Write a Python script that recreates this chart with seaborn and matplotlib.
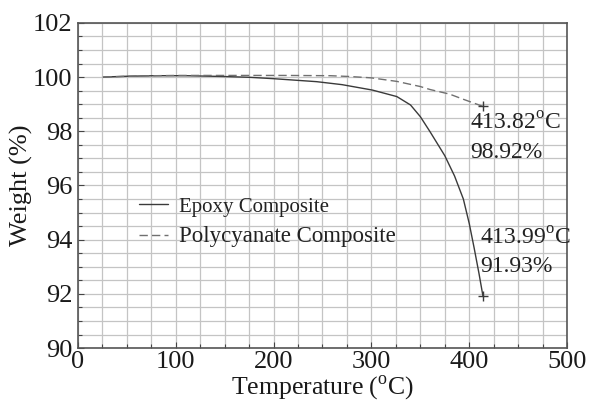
import numpy as np
import pandas as pd
import seaborn as sns
import matplotlib
matplotlib.use("Agg")
import matplotlib.pyplot as plt
from matplotlib.ticker import MultipleLocator

# TGA curves (temperature in °C, residual weight in %)
epoxy_temp = [26, 50, 80, 110, 150, 176, 200, 244, 270, 301, 326, 340, 350, 360, 375, 385,
              394, 400, 405, 410, 413.99]
epoxy_weight = [100.0, 100.03, 100.05, 100.05, 100.02, 99.99, 99.94, 99.83, 99.72, 99.52,
                99.28, 98.97, 98.54, 97.98, 97.1, 96.35, 95.5, 94.6, 93.7, 92.75, 91.93]

poly_temp = [26, 60, 100, 150, 210, 258, 278, 300, 326, 350, 360, 380, 394, 413.82]
poly_weight = [100.0, 100.04, 100.06, 100.06, 100.06, 100.05, 100.02, 99.97, 99.84, 99.65,
               99.54, 99.37, 99.18, 98.92]

series_names = ["Epoxy Composite", "Polycyanate Composite"]

df = pd.concat([
    pd.DataFrame({"Temperature": epoxy_temp, "Weight": epoxy_weight, "Sample": series_names[0]}),
    pd.DataFrame({"Temperature": poly_temp, "Weight": poly_weight, "Sample": series_names[1]}),
])

sns.set_style("ticks")
plt.rcParams["font.family"] = ["Liberation Serif", "DejaVu Serif"]
plt.rcParams["mathtext.fontset"] = "custom"
plt.rcParams["mathtext.rm"] = "Liberation Serif"

fig = plt.figure(figsize=(5.95, 4.01), dpi=100)
ax = fig.add_axes([0.131, 0.132, 0.822, 0.811])

sns.lineplot(data=df, x="Temperature", y="Weight", hue="Sample", style="Sample",
             palette={series_names[0]: "#3a3a3a", series_names[1]: "#707070"},
             dashes={series_names[0]: "", series_names[1]: (6, 3)},
             linewidth=1.0, ax=ax, sort=False)

# end-point markers
ax.plot(epoxy_temp[-1], epoxy_weight[-1], marker="+", color="#3a3a3a", ms=7, mew=1.0)
ax.plot(poly_temp[-1], poly_weight[-1], marker="+", color="#3a3a3a", ms=7, mew=1.0)

deg = r"$^{\mathrm{o}}$C"
txt_kw = dict(fontsize=17, color="#222222", ha="left", va="baseline")
ax.text(400.8, 98.05, f"{poly_temp[-1]:.2f}{deg}", **txt_kw)
ax.text(400.8, 97.0, f"{poly_weight[-1]:.2f}%", **txt_kw)
ax.text(411.0, 93.80, f"{epoxy_temp[-1]:.2f}{deg}", **txt_kw)
ax.text(411.0, 92.80, f"{epoxy_weight[-1]:.2f}%", **txt_kw)

ax.set_xlim(0, 500)
ax.set_ylim(90, 102)
ax.xaxis.set_major_locator(MultipleLocator(100))
ax.xaxis.set_minor_locator(MultipleLocator(25))
ax.yaxis.set_major_locator(MultipleLocator(2))
ax.yaxis.set_minor_locator(MultipleLocator(0.5))
ax.grid(which="both", color="#c4c4c4", linewidth=0.9)
ax.set_axisbelow(True)

ax.tick_params(which="both", direction="in", colors="#444444", labelcolor="#1a1a1a",
               labelsize=19, width=0.8)
ax.tick_params(which="major", length=4)
ax.tick_params(which="minor", length=3)
ax.tick_params(axis="x", which="major", pad=2)
ax.tick_params(axis="y", which="major", pad=4)
for s in ax.spines.values():
    s.set_color("#555555")
    s.set_linewidth(1.2)

ax.set_xlabel(f"Temperature ({deg})", fontsize=18.5, labelpad=0, color="#1a1a1a")
ax.set_ylabel("Weight (%)", fontsize=19, labelpad=0, color="#1a1a1a")

leg = ax.legend(loc="upper left", bbox_to_anchor=(0.107, 0.49), frameon=False, fontsize=15,
                handlelength=1.4, handletextpad=0.55, labelspacing=0.45, borderaxespad=0)
texts = leg.get_texts()
for t in texts:
    t.set_color("#222222")
texts[1].set_fontsize(16.5)

fig.savefig("out.png", dpi=100)
